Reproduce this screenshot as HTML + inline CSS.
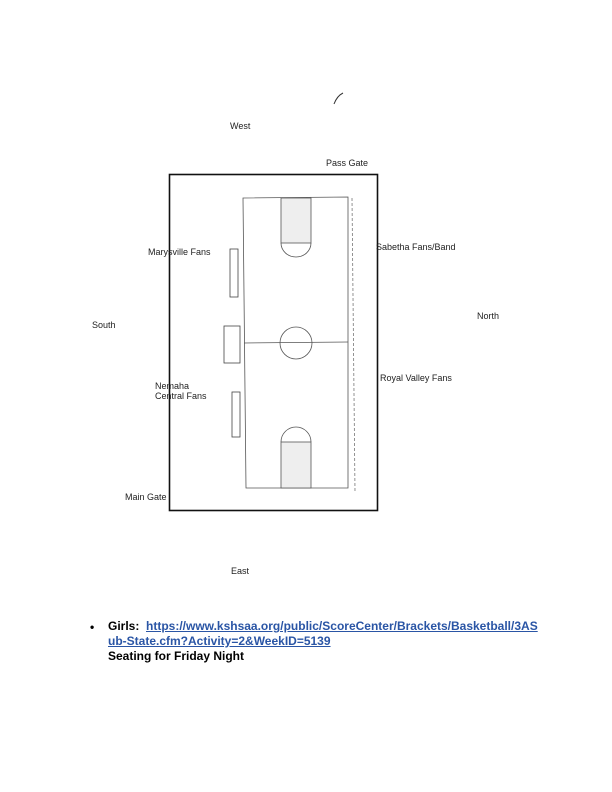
<!DOCTYPE html>
<html><head><meta charset="utf-8"><style>
body{margin:0;width:612px;height:792px;background:#fff;position:relative;font-family:"Liberation Sans",sans-serif;overflow:hidden}
.t{position:absolute;font-size:9px;color:#222;line-height:10px;white-space:nowrap}
.b{position:absolute;font-size:12px;font-weight:bold;color:#000;line-height:15px;white-space:nowrap}
a{color:#2a55a5;text-decoration:underline}
</style></head><body>
<svg width="612" height="792" style="position:absolute;left:0;top:0">
<path d="M334 104 Q337 96 343 93" stroke="#333" fill="none" stroke-width="1"/>
<rect x="169.5" y="174.5" width="208" height="336" fill="none" stroke="#111" stroke-width="1.6"/>
<polygon points="243,198 348,197 348,488 246,488" fill="none" stroke="#555" stroke-width="0.8"/>
<line x1="244" y1="343" x2="348" y2="342" stroke="#555" stroke-width="0.8"/>
<circle cx="296" cy="343" r="16" fill="none" stroke="#555" stroke-width="0.8"/>
<rect x="281" y="198" width="30" height="45" fill="#eee" stroke="#555" stroke-width="0.8"/>
<path d="M281 243 A15 14 0 0 0 311 243" fill="none" stroke="#555" stroke-width="0.8"/>
<rect x="281" y="442" width="30" height="46" fill="#eee" stroke="#555" stroke-width="0.8"/>
<path d="M281 442 A15 15 0 0 1 311 442" fill="none" stroke="#555" stroke-width="0.8"/>
<line x1="352" y1="198" x2="355" y2="492" stroke="#777" stroke-width="0.8" stroke-dasharray="3,2"/>
<rect x="230" y="249" width="8" height="48" fill="#fff" stroke="#444" stroke-width="0.8"/>
<rect x="224" y="326" width="16" height="37" fill="#fff" stroke="#444" stroke-width="0.8"/>
<rect x="232" y="392" width="8" height="45" fill="#fff" stroke="#444" stroke-width="0.8"/>
</svg>
<div class="t" style="left:230px;top:121px">West</div>
<div class="t" style="left:326px;top:158px">Pass Gate</div>
<div class="t" style="left:148px;top:247px">Marysville Fans</div>
<div class="t" style="left:376px;top:242px">Sabetha Fans/Band</div>
<div class="t" style="left:92px;top:320px">South</div>
<div class="t" style="left:477px;top:311px">North</div>
<div class="t" style="left:155px;top:381px">Nemaha<br>Central Fans</div>
<div class="t" style="left:380px;top:373px">Royal Valley Fans</div>
<div class="t" style="left:125px;top:492px">Main Gate</div>
<div class="t" style="left:231px;top:566px">East</div>
<div class="b" style="left:90px;top:620px">•</div>
<div class="b" style="left:108px;top:619px">Girls:&nbsp; <a>https://www.kshsaa.org/public/ScoreCenter/Brackets/Basketball/3AS</a><br><a>ub-State.cfm?Activity=2&amp;WeekID=5139</a><br>Seating for Friday Night</div>
</body></html>
